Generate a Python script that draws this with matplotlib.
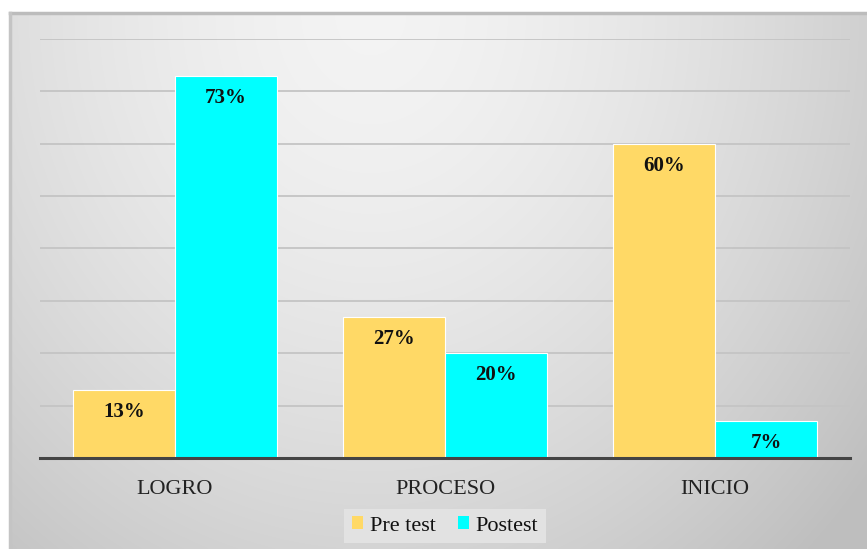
import numpy as np
import matplotlib.pyplot as plt
from matplotlib.patches import Patch

plt.rcParams["font.family"] = "serif"
plt.rcParams["font.serif"] = ["Liberation Serif", "DejaVu Serif"]

categories = ["LOGRO", "PROCESO", "INICIO"]
series_names = ["Pre test", "Postest"]
pre_test = [13, 27, 60]
postest = [73, 20, 7]
colors = ["#FFD966", "#00FFFF"]

W, H = 867, 549
fig = plt.figure(figsize=(W / 100, H / 100), dpi=100)
fig.patch.set_facecolor("white")

# Chart area with a soft radial gray gradient
bg = fig.add_axes([10 / W, 0, (W - 10) / W, (H - 13) / H])
ny, nx = 300, 500
yy, xx = np.mgrid[0:ny, 0:nx]
cx, cy = nx * 0.42, 0.0
d = np.sqrt(((xx - cx) / (nx * 0.62)) ** 2 + ((yy - cy) / (ny * 1.15)) ** 2)
d = np.clip(d, 0, 1.2)
light, dark = 0.955, 0.80
val = light - (light - dark) * d ** 1.6
val = np.clip(val, 0.74, 1)
bg.imshow(np.dstack([val, val, val]), aspect="auto", extent=[0, 1, 0, 1],
          origin="upper", interpolation="bilinear")
bg.set_xlim(0, 1)
bg.set_ylim(0, 1)
bg.axis("off")
bg.plot([0, 1], [1, 1], color="#bcbcbc", lw=2.5, transform=bg.transAxes, clip_on=False)
bg.plot([0, 0], [0, 1], color="#c4c4c4", lw=2.5, transform=bg.transAxes, clip_on=False)

# Plot area
x0, x1 = 40, 850
ytop, ybot = 39, 458
ax = fig.add_axes([x0 / W, (H - ybot) / H, (x1 - x0) / W, (ybot - ytop) / H])
ax.patch.set_alpha(0)

x = np.arange(len(categories))
width = 0.378
b1 = ax.bar(x - width / 2, pre_test, width, color=colors[0], edgecolor="white",
            linewidth=0.8, zorder=3, label=series_names[0])
b2 = ax.bar(x + width / 2, postest, width, color=colors[1], edgecolor="white",
            linewidth=0.8, zorder=3, label=series_names[1])

for bars, vals in ((b1, pre_test), (b2, postest)):
    for rect, v in zip(bars, vals):
        ax.annotate(f"{v}%", (rect.get_x() + rect.get_width() / 2, v),
                    xytext=(0, -22), textcoords="offset pixels",
                    ha="center", va="center", fontsize=15, fontweight="bold",
                    color="#111111", zorder=4)

ax.set_xlim(-0.5, 2.5)
ax.set_ylim(0, 80)
ax.set_yticks(np.arange(10, 81, 10))
ax.yaxis.grid(True, color="#c4c4c4", lw=1.3, zorder=0)
ax.tick_params(axis="y", left=False, labelleft=False)
ax.tick_params(axis="x", bottom=False, pad=12)
ax.set_xticks(x)
ax.set_xticklabels(categories, fontsize=16, color="#222222")
for s in ("top", "right", "left"):
    ax.spines[s].set_visible(False)
ax.spines["bottom"].set_color("#444444")
ax.spines["bottom"].set_linewidth(2.2)
ax.spines["bottom"].set_zorder(5)

handles = [Patch(facecolor=c, edgecolor="none") for c in colors]
leg = fig.legend(handles, series_names, loc="center", bbox_to_anchor=(445 / W, (H - 526) / H),
                 ncol=2, frameon=True, fancybox=False, handlelength=0.5, handleheight=0.5,
                 handletextpad=0.3, columnspacing=1.0, borderpad=0.35,
                 prop={"size": 16})
leg.get_frame().set_facecolor("#e2e2e2")
leg.get_frame().set_edgecolor("none")
leg.get_frame().set_alpha(1)
for t in leg.get_texts():
    t.set_color("#111111")

fig.savefig("out.png", dpi=100)
